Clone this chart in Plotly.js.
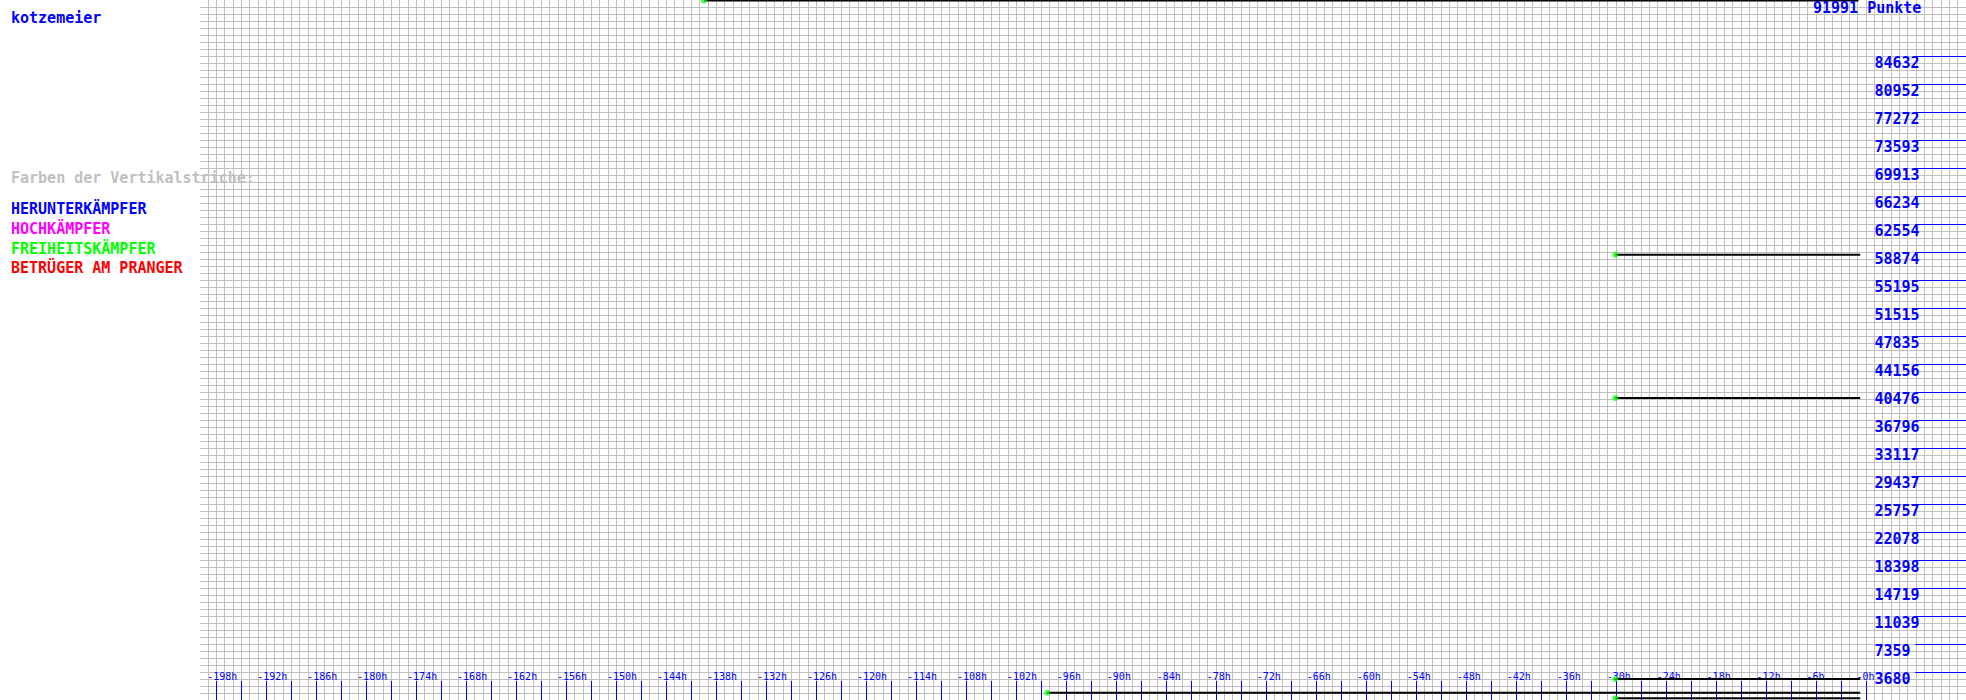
<!DOCTYPE html>
<html>
<head>
<meta charset="utf-8">
<script src="https://cdn.plot.ly/plotly-3.0.1.min.js"></script>
<style>
html,body{margin:0;padding:0;background:#ffffff;}
#chart{width:1966px;height:700px;}
</style>
</head>
<body>
<div id="chart"></div>
<script>
// ---- data ----
const playerName = "kotzemeier";
const maxPoints = 91991;
const topLabel = "91991 Punkte";

// horizontal history lines (hours before now, points)
const lineStartHours = [-139.5, -30.1, -30.1, -98.3, -30.1, -30.1];
const lineEndHours   = [-0.9,   -0.7,  -0.7,  -0.7,  -0.7,  -0.7];
const linePoints     = [91925,  58520, 39688, 959,   2760,  223];

// x axis ticks (every 3h) and labels (every 6h)
const xTickHours = [-198,-195,-192,-189,-186,-183,-180,-177,-174,-171,-168,-165,-162,-159,-156,-153,-150,-147,-144,-141,-138,-135,-132,-129,-126,-123,-120,-117,-114,-111,-108,-105,-102,-99,-96,-93,-90,-87,-84,-81,-78,-75,-72,-69,-66,-63,-60,-57,-54,-51,-48,-45,-42,-39,-36,-33,-30,-27,-24,-21,-18,-15,-12,-9,-6,-3,0];
const xLabelHours = [-198,-192,-186,-180,-174,-168,-162,-156,-150,-144,-138,-132,-126,-120,-114,-108,-102,-96,-90,-84,-78,-72,-66,-60,-54,-48,-42,-36,-30,-24,-18,-12,-6,0];
const xLabelTexts = ["-198h","-192h","-186h","-180h","-174h","-168h","-162h","-156h","-150h","-144h","-138h","-132h","-126h","-120h","-114h","-108h","-102h","-96h","-90h","-84h","-78h","-72h","-66h","-60h","-54h","-48h","-42h","-36h","-30h","-24h","-18h","-12h","-6h","-0h"];

// y axis labels (points)
const yTickLabels = ["3680","7359","11039","14719","18398","22078","25757","29437","33117","36796","40476","44156","47835","51515","55195","58874","62554","66234","69913","73593","77272","80952","84632"];

// legend texts
const legendTitle = "Farben der Vertikalstriche:";
const legendItems = ["HERUNTERKÄMPFER","HOCHKÄMPFER","FREIHEITSKÄMPFER","BETRÜGER AM PRANGER"];
const legendColors = ["#0000ff","#ff00ff","#00ff00","#ff0000"];

// ---- build ----
const W = 1966, H = 700;
const MONO = "DejaVu Sans Mono, monospace";
const xRange = [-200, 12];
const yRange = [0, maxPoints];
const plotLeft = 200;

const xTickText = xTickHours.map(h => {
  const i = xLabelHours.indexOf(h);
  return i >= 0 ? xLabelTexts[i] : "";
});
const yTickVals = yTickLabels.map(Number);

// invisible helper traces so the overlay axes get drawn
const helper = (xa, ya) => ({
  type: "scatter", mode: "markers", x: [xRange[0]], y: [yRange[0]],
  xaxis: xa, yaxis: ya, marker: {opacity: 0, size: 1}, hoverinfo: "skip", showlegend: false
});
const traces = [helper("x2", "y"), helper("x", "y2"), helper("x", "y3")];

lineStartHours.forEach((s, i) => traces.push({
  type: "scatter",
  mode: "lines+markers",
  x: [s, lineEndHours[i]],
  y: [linePoints[i], linePoints[i]],
  xaxis: "x", yaxis: "y",
  line: {color: "#000000", width: 2},
  marker: {color: "#00ff00", size: [6, 0], line: {width: 0}},
  hoverinfo: "skip"
}));

const annotations = [
  {text: playerName, x: 9/W, y: 1 - 18/H, xref: "paper", yref: "paper", xanchor: "left", yanchor: "middle",
   showarrow: false, font: {family: MONO, size: 15, color: "#0000ff", weight: "bold"}},
  {text: legendTitle, x: 9/W, y: 1 - 178/H, xref: "paper", yref: "paper", xanchor: "left", yanchor: "middle",
   showarrow: false, font: {family: MONO, size: 15, color: "#c0c0c0", weight: "bold"}},
  {text: topLabel, x: 1923/W, y: 1 - 8.5/H, xref: "paper", yref: "paper", xanchor: "right", yanchor: "middle",
   showarrow: false, font: {family: MONO, size: 15, color: "#0000ff", weight: "bold"}}
];
legendItems.forEach((t, i) => {
  annotations.push({text: t, x: 9/W, y: 1 - (208 + 20*i)/H, xref: "paper", yref: "paper",
    xanchor: "left", yanchor: "middle", showarrow: false,
    font: {family: MONO, size: 15, color: legendColors[i], weight: "bold"}});
});

const layout = {
  width: W, height: H,
  margin: {l: 0, r: 0, t: 0, b: 0, pad: 0},
  paper_bgcolor: "#ffffff",
  plot_bgcolor: "rgba(0,0,0,0)",
  showlegend: false,
  xaxis: {
    domain: [plotLeft/W, 1], range: xRange, tick0: 0, dtick: 1,
    showgrid: true, gridcolor: "#c0c0c0", gridwidth: 1,
    showticklabels: false, ticks: "", zeroline: false, showline: false, fixedrange: true
  },
  yaxis: {
    domain: [0, 1], range: yRange, tick0: 0, dtick: maxPoints/100,
    showgrid: true, gridcolor: "#c0c0c0", gridwidth: 1,
    showticklabels: false, ticks: "", zeroline: false, showline: false, fixedrange: true
  },
  xaxis2: {
    overlaying: "x", side: "top", anchor: "free", position: 20/H,
    domain: [plotLeft/W, 1], range: xRange,
    tickmode: "array", tickvals: xTickHours, ticktext: xTickText,
    ticks: "inside", ticklen: 20, tickwidth: 1, tickcolor: "#0000ff",
    ticklabelposition: "outside right", ticklabelshift: -10, ticklabelstandoff: -2,
    tickfont: {family: MONO, size: 10, color: "#0000ff"},
    showgrid: false, zeroline: false, showline: false, layer: "below traces", fixedrange: true
  },
  yaxis2: {
    overlaying: "y", side: "right", anchor: "free", position: 1,
    range: yRange, tickmode: "array", tickvals: yTickVals, ticktext: yTickVals.map(() => ""),
    ticks: "inside", ticklen: 51, tickwidth: 1, tickcolor: "#0000ff",
    showticklabels: false, showgrid: false, zeroline: false, showline: false,
    layer: "below traces", fixedrange: true
  },
  yaxis3: {
    overlaying: "y", side: "right", anchor: "free", position: 1873.5/W,
    range: yRange, tickmode: "array", tickvals: yTickVals, ticktext: yTickLabels,
    ticks: "", ticklabelposition: "outside", ticklabelshift: 7, ticklabelstandoff: 0,
    tickfont: {family: MONO, size: 15, color: "#0000ff", weight: "bold"},
    showgrid: false, zeroline: false, showline: false, layer: "below traces", fixedrange: true
  },
  annotations: annotations
};

Plotly.newPlot("chart", traces, layout, {staticPlot: true, displayModeBar: false});
</script>
</body>
</html>
